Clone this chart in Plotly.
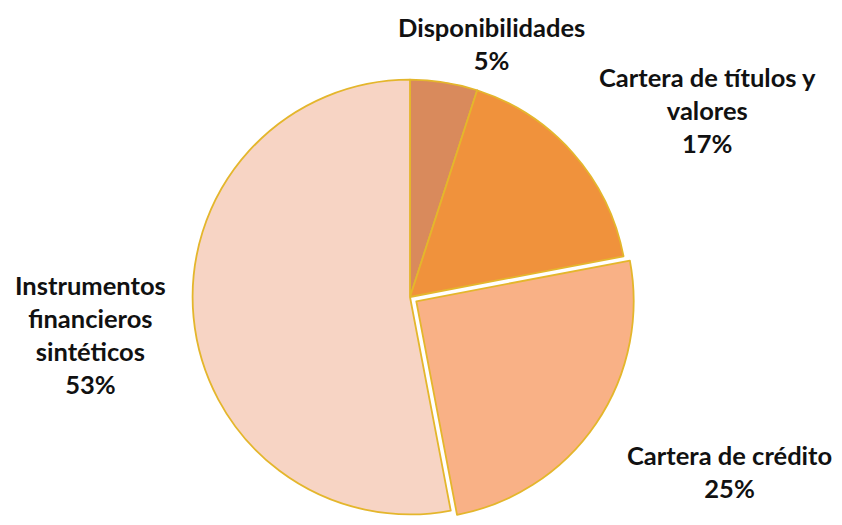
import plotly.graph_objects as go

# Composition of the portfolio (percent of total)
categories = ["Disponibilidades", "Cartera de títulos y<br>valores",
              "Cartera de crédito", "Instrumentos<br>financieros<br>sintéticos"]
values = [5, 17, 25, 53]
pulls = [0, 0, 0.035, 0]
colors = ["#D98A5C", "#F0923C", "#F9B186", "#F7D4C4"]

# label centres in pixels (x, y from top)
label_pos = [(492, 44), (707, 110), (729, 471), (90, 334)]

W, H = 842, 525
cx, cy, half = 410, 297, 225

fig = go.Figure(go.Pie(
    labels=[c.replace("<br>", " ") for c in categories],
    values=values,
    sort=False,
    direction="clockwise",
    rotation=0,
    pull=pulls,
    marker=dict(colors=colors, line=dict(color="#E4B62C", width=1.8)),
    textinfo="none",
    hoverinfo="label+percent",
    showlegend=False,
    domain=dict(x=[(cx - half) / W, (cx + half) / W],
                y=[1 - (cy + half) / H, 1 - (cy - half) / H]),
))

for name, v, (px, py) in zip(categories, values, label_pos):
    fig.add_annotation(
        x=px / W, y=1 - py / H, xref="paper", yref="paper",
        text=f"<b>{name}<br>{v}%</b>", showarrow=False,
        xanchor="center", yanchor="middle", align="center",
        font=dict(family="Lato", size=25.5, color="#111111"),
    )

fig.update_layout(
    width=W, height=H,
    margin=dict(l=0, r=0, t=0, b=0),
    paper_bgcolor="white", plot_bgcolor="white",
    font=dict(family="Lato"),
)

fig.write_html("out.html")
